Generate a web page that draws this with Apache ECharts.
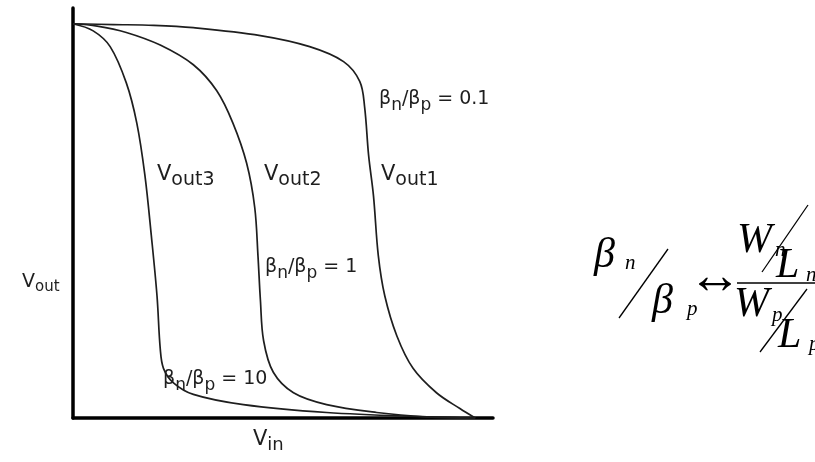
<!DOCTYPE html>
<html>
<head>
<meta charset="utf-8">
<title>CMOS inverter transfer characteristics</title>
<script src="https://cdn.jsdelivr.net/npm/echarts@6/dist/echarts.min.js"></script>
<style>
  html, body { margin: 0; padding: 0; background: #ffffff; }
  #chart { width: 815px; height: 462px; }
</style>
</head>
<body>
<div id="chart"></div>
<script>
// Transfer curves Vout(Vin) of a CMOS inverter, VDD = 5 V
// Curve 1: βn/βp = 0.1
const vin1  = [0, 0.5, 1.0, 1.49, 2.32, 2.93, 3.35, 3.55, 3.61, 3.66, 3.72, 3.78, 3.86, 4.01, 4.21, 4.50, 4.79, 4.98];
const vout1 = [5.0, 4.99, 4.98, 4.95, 4.85, 4.71, 4.52, 4.27, 3.95, 3.33, 2.82, 2.06, 1.55, 1.04, 0.63, 0.32, 0.12, 0.0];
// Curve 2: βn/βp = 1
const vin2  = [0, 0.3, 0.66, 1.08, 1.49, 1.78, 1.98, 2.15, 2.25, 2.29, 2.32, 2.36, 2.48, 2.73, 3.14, 3.76, 4.38, 4.98];
const vout2 = [5.0, 4.97, 4.89, 4.73, 4.48, 4.15, 3.74, 3.23, 2.67, 2.06, 1.50, 0.98, 0.58, 0.32, 0.17, 0.07, 0.015, 0.0];
// Curve 3: βn/βp = 10
const vin3  = [0, 0.25, 0.46, 0.66, 0.79, 0.89, 0.97, 1.04, 1.08, 1.12, 1.24, 1.49, 2.11, 3.14, 4.38, 4.98];
const vout3 = [5.0, 4.91, 4.71, 4.25, 3.74, 3.08, 2.31, 1.55, 0.88, 0.63, 0.45, 0.30, 0.17, 0.07, 0.015, 0.0];

const axisMax = 5.2;
const ink = '#1e1e1e';

function zip(xs, ys) { return xs.map((x, i) => [x, ys[i]]); }

const sans = 'DejaVu Sans';
const serif = 'Liberation Serif';

// label with a subscript, e.g. V_out1
function subLabel(x, y, main, sub, size, subSize, drop) {
  return {
    type: 'text', x: x, y: y, z: 10,
    style: {
      text: '{m|' + main + '}{s|' + sub + '}',
      fill: ink,
      textVerticalAlign: 'top',
      rich: {
        m: { fontFamily: sans, fontSize: size, verticalAlign: 'top', fill: ink },
        s: { fontFamily: sans, fontSize: subSize, verticalAlign: 'top', padding: [drop, 0, 0, 0], fill: ink }
      }
    }
  };
}

// ratio label βn/βp = k
function betaLabel(x, y, k) {
  const sz = 19, ss = 17, d = 7;
  return {
    type: 'text', x: x, y: y, z: 10,
    style: {
      text: '{m|β}{s|n}{m|/β}{s|p}{m| = ' + k + '}',
      fill: ink,
      textVerticalAlign: 'top',
      rich: {
        m: { fontFamily: sans, fontSize: sz, verticalAlign: 'top', fill: ink },
        s: { fontFamily: sans, fontSize: ss, verticalAlign: 'top', padding: [d, 0, 0, 0], fill: ink }
      }
    }
  };
}

function mathText(x, y, t, size) {
  return {
    type: 'text', x: x, y: y, z: 10,
    style: { text: t, fill: '#000', font: 'italic ' + size + 'px "' + serif + '"', textVerticalAlign: 'top' }
  };
}
function mathLine(x1, y1, x2, y2, w) {
  return {
    type: 'line', z: 10,
    shape: { x1: x1, y1: y1, x2: x2, y2: y2 },
    style: { stroke: '#000', lineWidth: w || 1.3 }
  };
}

const chart = echarts.init(document.getElementById('chart'), null, { renderer: 'canvas' });

const lineSeries = (name, data) => ({
  name: name,
  type: 'line',
  data: data,
  showSymbol: false,
  smooth: 0.35,
  clip: false,
  lineStyle: { color: ink, width: 1.7 },
  emphasis: { disabled: true },
  silent: true
});

const hiddenAxis = {
  type: 'value', min: 0, max: axisMax,
  axisLine: { show: true, onZero: true, lineStyle: { color: '#000', width: 3.5 } },
  axisTick: { show: false },
  axisLabel: { show: false },
  splitLine: { show: false }
};

chart.setOption({
  backgroundColor: '#ffffff',
  animation: false,
  grid: { left: 73, right: 322, top: 8, bottom: 44 },
  xAxis: Object.assign({}, hiddenAxis),
  yAxis: Object.assign({}, hiddenAxis),
  series: [
    lineSeries('Vout1', zip(vin1, vout1)),
    lineSeries('Vout2', zip(vin2, vout2)),
    lineSeries('Vout3', zip(vin3, vout3))
  ],
  graphic: [
    // axis names
    subLabel(22, 273, 'V', 'out', 19, 15, 7),
    subLabel(253, 429, 'V', 'in', 21, 18, 7),
    // curve names
    subLabel(157, 164, 'V', 'out3', 21, 19, 7),
    subLabel(264, 164, 'V', 'out2', 21, 19, 7),
    subLabel(381, 164, 'V', 'out1', 21, 19, 7),
    // ratio labels
    betaLabel(379, 90, '0.1'),
    betaLabel(265, 258, '1'),
    betaLabel(163, 370, '10'),
    // βn/βp ↔ (Wn/Ln)/(Wp/Lp)
    mathText(594, 235, 'β', 42),
    mathText(625, 253, 'n', 21),
    mathLine(619, 318, 668, 249),
    mathText(652, 281, 'β', 42),
    mathText(687, 299, 'p', 21),
    { type: 'text', x: 688, y: 279, z: 10,
      style: { text: '↔', fill: '#000', font: '54px "' + serif + '"', textVerticalAlign: 'middle' } },
    mathLine(737, 283, 815, 283, 1.6),
    mathText(737, 220, 'W', 42),
    mathText(775, 240, 'n', 21),
    mathLine(762, 272, 808, 205),
    mathText(776, 245, 'L', 42),
    mathText(806, 265, 'n', 21),
    mathText(734, 284, 'W', 42),
    mathText(772, 305, 'p', 21),
    mathLine(760, 352, 807, 289),
    mathText(778, 315, 'L', 42),
    mathText(809, 334, 'p', 21)
  ]
});
</script>
</body>
</html>
